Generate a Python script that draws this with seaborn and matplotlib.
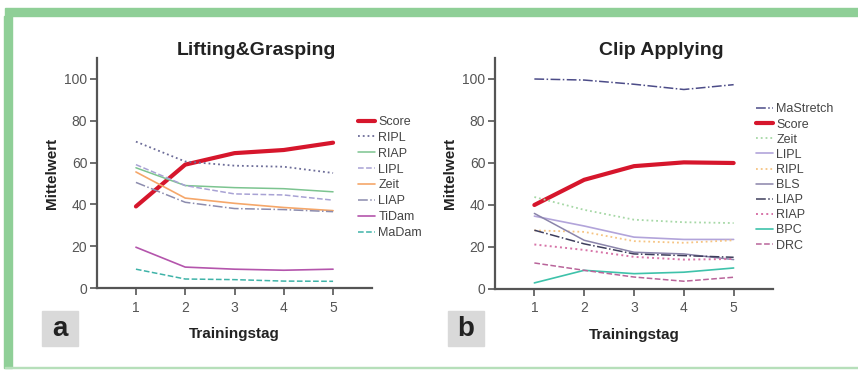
import matplotlib
matplotlib.use("Agg")
import matplotlib.pyplot as plt
import seaborn as sns
from matplotlib.patches import Rectangle

sns.set_style("white")
plt.rcParams['font.family'] = ['Liberation Sans', 'DejaVu Sans']

# Daten
tage = [1, 2, 3, 4, 5]

# Panel a: Lifting&Grasping
lg_score = [39, 59, 64.5, 66, 69.5]
lg_ripl = [70, 60.5, 58.5, 58, 55]
lg_riap = [57.5, 49, 48, 47.5, 46]
lg_lipl = [59, 49, 45, 44.5, 42]
lg_zeit = [55.5, 43, 40.5, 38.5, 37]
lg_liap = [50.5, 41, 38, 37.5, 36.5]
lg_tidam = [19.5, 10, 9, 8.5, 9]
lg_madam = [9, 4.3, 4, 3.3, 3.2]

# Panel b: Clip Applying
ca_mastretch = [100, 99.5, 97.5, 95, 97.3]
ca_score = [40, 52, 58.5, 60.3, 60]
ca_zeit = [43.8, 37.7, 33, 31.8, 31.4]
ca_lipl = [34.7, 30, 24.7, 23.6, 23.6]
ca_ripl = [27.9, 27.2, 22.8, 22, 23.2]
ca_bls = [36, 23.2, 17.5, 16.7, 14]
ca_liap = [28, 21.5, 16.7, 15.9, 15.1]
ca_riap = [21.2, 18.6, 15.3, 14, 14.3]
ca_bpc = [2.9, 8.9, 7.3, 8, 10]
ca_drc = [12.4, 8.9, 5.7, 3.7, 5.6]

red = '#d6162c'
serien_a = [
    ('Score', lg_score, red, '-', 3.0),
    ('RIPL', lg_ripl, '#6c6c98', ':', 1.3),
    ('RIAP', lg_riap, '#7cc490', '-', 1.1),
    ('LIPL', lg_lipl, '#a8a2d4', '--', 1.1),
    ('Zeit', lg_zeit, '#f5a76a', '-', 1.2),
    ('LIAP', lg_liap, '#8c8cae', '-.', 1.1),
    ('TiDam', lg_tidam, '#b455ac', '-', 1.2),
    ('MaDam', lg_madam, '#3fb3a8', '--', 1.1),
]
serien_b = [
    ('MaStretch', ca_mastretch, '#4c4c88', '-.', 1.1),
    ('Score', ca_score, red, '-', 3.0),
    ('Zeit', ca_zeit, '#a6d8a6', ':', 1.3),
    ('LIPL', ca_lipl, '#b2a4da', '-', 1.2),
    ('RIPL', ca_ripl, '#f6c482', ':', 1.3),
    ('BLS', ca_bls, '#8a84aa', '-', 1.1),
    ('LIAP', ca_liap, '#3e3e5c', '-.', 1.1),
    ('RIAP', ca_riap, '#d774a8', ':', 1.4),
    ('BPC', ca_bpc, '#3ec2aa', '-', 1.2),
    ('DRC', ca_drc, '#b9649a', '--', 1.1),
]

fig = plt.figure(figsize=(8.58, 3.78), dpi=100)

# gruener Rahmen
gruen = '#8fcf97'
fig.patches.append(Rectangle((5 / 858, 1 - 16 / 378), 853 / 858, 8 / 378,
                             transform=fig.transFigure, color=gruen, zorder=0))
fig.patches.append(Rectangle((4 / 858, 1 - 368 / 378), 8 / 858, 352 / 378,
                             transform=fig.transFigure, color=gruen, zorder=0))
fig.patches.append(Rectangle((5 / 858, 1 - 368 / 378), 853 / 858, 1.5 / 378,
                             transform=fig.transFigure, color='#b6dfba', zorder=0))

grau = '#555555'


def panel(rect, serien, titel, titel_x, buchstabe, box_x, leg_x, leg_y, leg_sp):
    ax = fig.add_axes(rect)
    for name, werte, farbe, ls, lw in serien:
        sns.lineplot(x=tage, y=werte, ax=ax, color=farbe, linestyle=ls,
                     linewidth=lw, label=name)
    ax.set_xlim(0.21, 5.79)
    ax.set_ylim(0, 110)
    ax.set_xticks(tage)
    ax.set_yticks([0, 20, 40, 60, 80, 100])
    for s in ['top', 'right']:
        ax.spines[s].set_visible(False)
    for s in ['left', 'bottom']:
        ax.spines[s].set_color(grau)
        ax.spines[s].set_linewidth(1.6)
    ax.tick_params(axis='both', direction='out', length=5, width=1.2,
                   color=grau, labelcolor=grau, labelsize=10, pad=2,
                   left=True, bottom=True)
    ax.tick_params(axis='x', pad=4)
    ax.set_title(titel, x=titel_x, fontsize=14, fontweight='bold', color='#222222', pad=2)
    ax.set_ylabel('Mittelwert', fontsize=11, fontweight='bold', color='#222222', labelpad=4)
    ax.set_xlabel('Trainingstag', fontsize=11, fontweight='bold', color='#222222', labelpad=9)
    ax.legend(loc='upper left', bbox_to_anchor=(leg_x, leg_y), frameon=False,
              fontsize=9, handlelength=1.4, handletextpad=0.25,
              labelspacing=leg_sp, borderaxespad=0, labelcolor='#444444')
    # Buchstabe
    fig.patches.append(Rectangle((box_x / 858, 1 - 346 / 378), 36 / 858, 35 / 378,
                                 transform=fig.transFigure, color='#d9d9d9', zorder=1))
    fig.text((box_x + 18) / 858, 1 - 329 / 378, buchstabe, fontsize=20,
             fontweight='bold', color='#222222', ha='center', va='center')
    return ax


panel([97 / 858, 90 / 378, 275 / 858, 230 / 378], serien_a, 'Lifting&Grasping', 0.58,
      'a', 42, 0.93, 0.77, 0.31)
panel([495 / 858, 89 / 378, 278 / 858, 231 / 378], serien_b, 'Clip Applying', 0.597,
      'b', 448, 0.92, 0.825, 0.25)

fig.savefig('out.png', dpi=100)
